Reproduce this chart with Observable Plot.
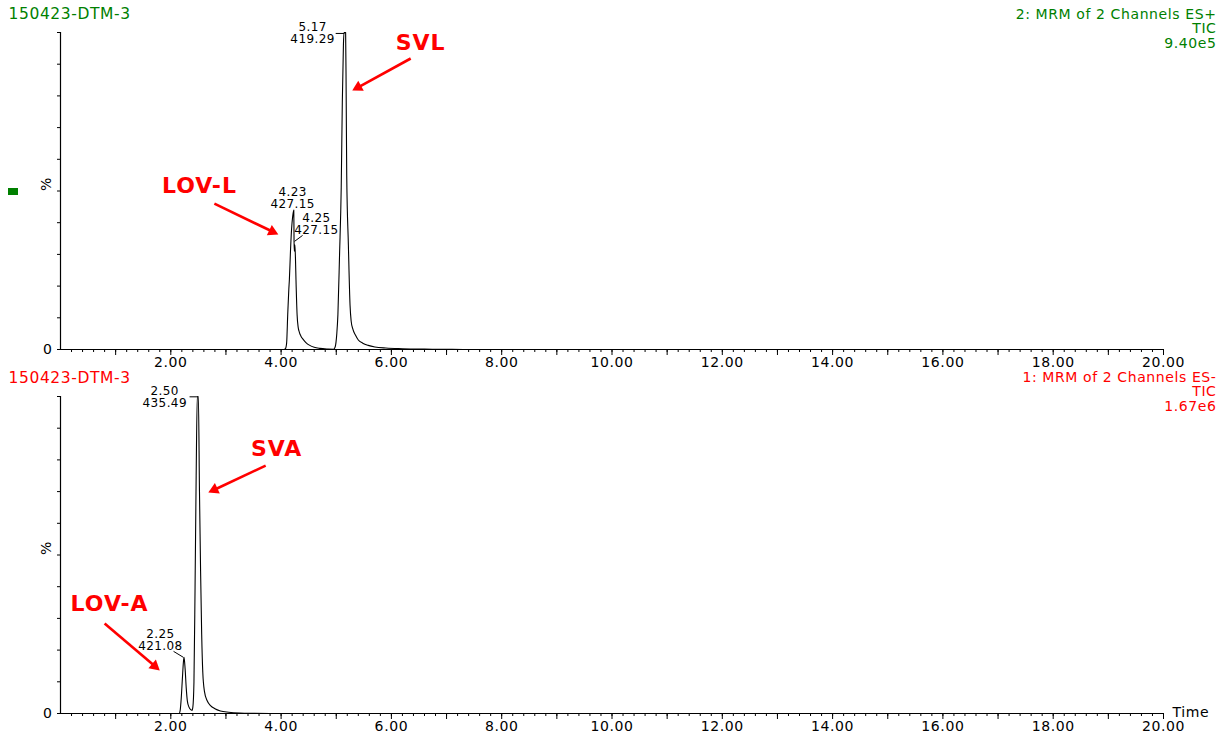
<!DOCTYPE html>
<html><head><meta charset="utf-8">
<script src="https://cdn.jsdelivr.net/npm/d3@7"></script>
<script src="https://cdn.jsdelivr.net/npm/@observablehq/plot@0.6"></script>
<style>
body{margin:0;background:#fff;width:1230px;height:737px;overflow:hidden;position:relative;font-family:"DejaVu Sans",sans-serif}
#chart svg{display:block}
#chart svg text{letter-spacing:0.6px}
#chart svg g[font-size="12"] text{letter-spacing:0.4px}
#chart svg g[font-weight="bold"] text{letter-spacing:1px}
#marker{position:absolute;left:8px;top:188px;width:10px;height:7px;background:#008000}
</style></head><body>
<div id="chart"></div>
<div id="marker"></div>
<script>
// ---- Data ----
// Top chromatogram: 2: MRM of 2 Channels ES+ (time in min, intensity in %)
const topTime = [0, 4.05, 4.08, 4.10, 4.12, 4.14, 4.15, 4.17, 4.19, 4.21, 4.23, 4.235, 4.24, 4.25, 4.26, 4.27, 4.29, 4.31, 4.33, 4.36, 4.40, 4.45, 4.52, 4.60, 4.70, 4.85, 4.95, 4.98, 5.01, 5.03, 5.06, 5.09, 5.11, 5.13, 5.14, 5.16, 5.17, 5.18, 5.19, 5.22, 5.25, 5.27, 5.30, 5.35, 5.40, 5.48, 5.58, 5.70, 5.90, 6.20, 6.60, 7.00, 7.30, 20];
const topPct  = [0, 0, 0.3, 2, 11, 19, 22, 31, 38, 42, 44, 34, 31, 33, 29, 22, 11, 7, 5.5, 4.2, 3.2, 2.2, 1.3, 0.7, 0.35, 0.15, 0.1, 0.8, 5, 11, 30, 51, 78, 96, 100, 100, 100, 80, 55, 33, 14, 9, 6.5, 4.5, 3, 2, 1.3, 0.8, 0.45, 0.25, 0.12, 0.05, 0, 0];
// Bottom chromatogram: 1: MRM of 2 Channels ES-
const botTime = [0, 2.15, 2.17, 2.19, 2.21, 2.23, 2.24, 2.26, 2.28, 2.30, 2.33, 2.36, 2.385, 2.40, 2.42, 2.44, 2.46, 2.48, 2.50, 2.52, 2.54, 2.56, 2.58, 2.61, 2.66, 2.72, 2.80, 2.90, 3.05, 3.25, 3.50, 3.80, 20];
const botPct  = [0, 0, 1, 5, 11, 16.5, 17.7, 14, 8, 4, 2, 1.2, 1, 2, 10, 40, 75, 100, 100, 70, 45, 25, 13, 7, 4, 2.5, 1.5, 0.8, 0.4, 0.15, 0.05, 0, 0];

// Peak labels: label centre (t, pct), text lines
const topPeakT    = [4.57, 4.21, 4.64];
const topPeakPct  = [99.7, 47.8, 39.4];
const topPeakText = ["5.17\n419.29", "4.23\n427.15", "4.25\n427.15"];
const topLeaders  = [{x1: 4.99, y1: 99.7, x2: 5.15, y2: 99.7}, {x1: 4.243, y1: 34.1, x2: 4.39, y2: 36.0}];
const botPeakT    = [1.89, 1.81];
const botPeakPct  = [99.8, 23.2];
const botPeakText = ["2.50\n435.49", "2.25\n421.08"];
const botLeaders  = [{x1: 2.34, y1: 99.9, x2: 2.48, y2: 99.9}, {x1: 2.05, y1: 19.6, x2: 2.23, y2: 17.7}];

// Annotations (compound names + arrows: tail x1,y1 -> tip x2,y2)
const topAnnText = ["SVL", "LOV-L"];
const topAnnT    = [6.53, 2.52];
const topAnnPct  = [96.8, 51.7];
const topArrows  = [{x1: 6.35, y1: 91.8, x2: 5.29, y2: 81.7}, {x1: 2.79, y1: 46.0, x2: 3.95, y2: 36.3}];
const botAnnText = ["SVA", "LOV-A"];
const botAnnT    = [3.92, 0.89];
const botAnnPct  = [83.6, 34.4];
const botArrows  = [{x1: 3.72, y1: 78.2, x2: 2.68, y2: 69.7}, {x1: 0.80, y1: 28.4, x2: 1.80, y2: 13.6}];

// Headers
const topHeaderLeft  = "150423-DTM-3";
const topHeaderRight = "2: MRM of 2 Channels ES+\nTIC\n9.40e5";
const botHeaderLeft  = "150423-DTM-3";
const botHeaderRight = "1: MRM of 2 Channels ES-\nTIC\n1.67e6";

// Axis ticks
const xMinorTicks = d3.range(1, 101).map(i => i / 5);
const xMajorTicks = d3.range(1, 21);
const xLabelTicks = d3.range(2, 21, 2);
const yTicks = d3.range(0, 101, 10);

const GREEN = "#008000", RED = "#ff0000";
const W = 1230, ML = 60, MR = 67;
const HEAD = 10; // arrowhead length in px

function panel(o) {
  const trace = o.time.map((t, i) => ({t, v: o.pct[i]}));
  const labels = o.peakT.map((t, i) => ({t, v: o.peakPct[i], s: o.peakText[i]}));
  const anns = o.annT.map((t, i) => ({t, v: o.annPct[i], s: o.annText[i]}));
  // scales used to orient the filled arrowheads
  const sx = Plot.scale({x: {domain: [0, 20], range: [ML, W - MR]}});
  const sy = Plot.scale({y: {domain: [0, 100], range: [o.height - o.mb, o.mt]}});
  const heads = o.arrows.map(a => {
    const px1 = sx.apply(a.x1), py1 = sy.apply(a.y1), px2 = sx.apply(a.x2), py2 = sy.apply(a.y2);
    const L = Math.hypot(px2 - px1, py2 - py1), ux = (px2 - px1) / L, uy = (py2 - py1) / L;
    const cx = px2 - ux * HEAD * 2 / 3, cy = py2 - uy * HEAD * 2 / 3;
    return {x: sx.invert(cx), y: sy.invert(cy), rot: Math.atan2(ux, -uy) * 180 / Math.PI,
            x1: a.x1, y1: a.y1};
  });
  const side = 2 * HEAD / Math.sqrt(3);
  const rHead = Math.sqrt(side * HEAD / 2 / Math.PI);
  return Plot.plot({
    width: W, height: o.height,
    marginLeft: ML, marginRight: MR, marginTop: o.mt, marginBottom: o.mb,
    x: {domain: [0, 20], axis: null},
    y: {domain: [0, 100], axis: null},
    style: {fontFamily: "DejaVu Sans", fontSize: "14px", color: "#000", background: "#fff", overflow: "visible"},
    marks: [
      Plot.ruleX([0], {y1: 0, y2: 100, stroke: "#000", strokeWidth: 1.2}),
      Plot.ruleY([0], {x1: 0, x2: 20, stroke: "#000", strokeWidth: 1.2}),
      Plot.axisY({ticks: yTicks, tickSize: 3, tickPadding: 5, tickFormat: d => d === 0 ? "0" : "", fontSize: 14}),
      Plot.axisX({ticks: xMinorTicks, tickSize: 3, tickFormat: () => ""}),
      Plot.axisX({ticks: xMajorTicks, tickSize: 6, tickFormat: () => ""}),
      Plot.axisX({ticks: xLabelTicks, tickSize: 0, tickPadding: 8, tickFormat: d => d.toFixed(2), fontSize: 14}),
      Plot.text(["%"], {frameAnchor: "left", dx: -14, rotate: -90, fontSize: 14, fill: "#000"}),
      Plot.line(trace, {x: "t", y: "v", stroke: "#000", strokeWidth: 1.1, curve: "monotone-x"}),
      Plot.link(o.leaders, {x1: "x1", y1: "y1", x2: "x2", y2: "y2", stroke: "#000", strokeWidth: 1}),
      Plot.text(labels, {x: "t", y: "v", text: "s", fontSize: 12, lineHeight: 1.0, fill: "#000"}),
      Plot.link(heads, {x1: "x1", y1: "y1", x2: "x", y2: "y", stroke: RED, strokeWidth: 2.6}),
      Plot.dot(heads, {x: "x", y: "y", symbol: "triangle", r: rHead, rotate: "rot", fill: RED, stroke: "none"}),
      Plot.text(anns, {x: "t", y: "v", text: "s", fill: RED, fontSize: 22, fontWeight: "bold"}),
      Plot.text([o.headerLeft], {frameAnchor: "top-left", lineAnchor: "middle", dx: -52, dy: o.hlDy, textAnchor: "start", fill: o.color, fontSize: 15.5}),
      Plot.text([o.headerRight], {frameAnchor: "top-right", lineAnchor: "middle", dx: 53, dy: o.hrDy, textAnchor: "end", lineHeight: 1.04, fill: o.color, fontSize: 14}),
      ...(o.timeLabel ? [Plot.text(["Time"], {frameAnchor: "bottom-right", lineAnchor: "middle", dx: 9, dy: -1, textAnchor: "start", fontSize: 14, fill: "#000"})] : [])
    ]
  });
}

const chart = document.getElementById("chart");
chart.append(panel({
  height: 370, mt: 32, mb: 21, time: topTime, pct: topPct,
  peakT: topPeakT, peakPct: topPeakPct, peakText: topPeakText, leaders: topLeaders,
  annT: topAnnT, annPct: topAnnPct, annText: topAnnText, arrows: topArrows,
  headerLeft: topHeaderLeft, headerRight: topHeaderRight, color: GREEN, hlDy: -18, hrDy: -4, timeLabel: false
}));
chart.append(panel({
  height: 367, mt: 26, mb: 24, time: botTime, pct: botPct,
  peakT: botPeakT, peakPct: botPeakPct, peakText: botPeakText, leaders: botLeaders,
  annT: botAnnT, annPct: botAnnPct, annText: botAnnText, arrows: botArrows,
  headerLeft: botHeaderLeft, headerRight: botHeaderRight, color: RED, hlDy: -18, hrDy: -5, timeLabel: true
}));
</script>
</body></html>
